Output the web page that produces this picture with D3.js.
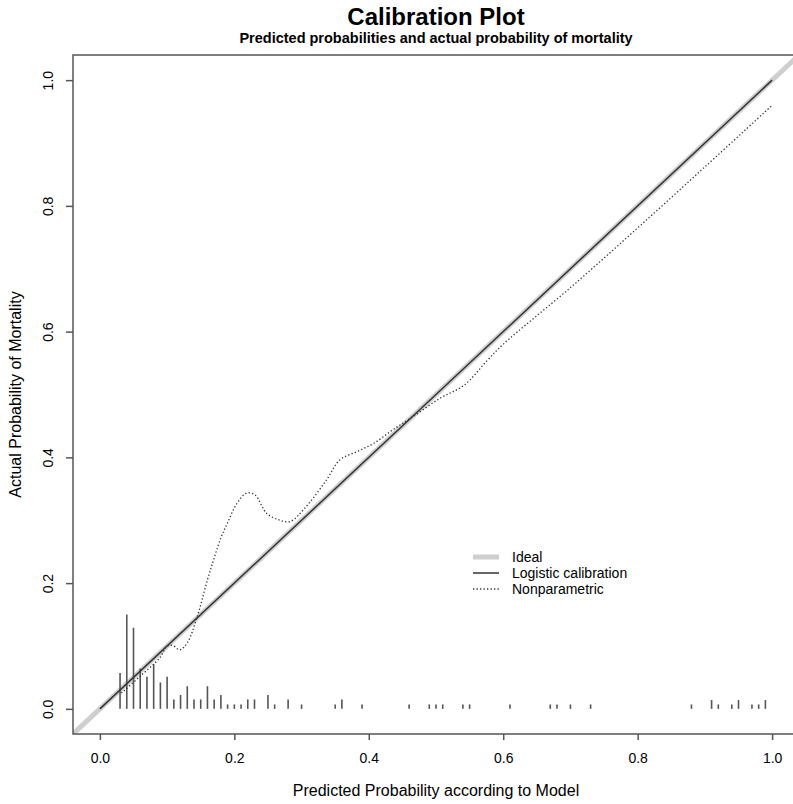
<!DOCTYPE html>
<html lang="en">
	<head>
		<meta charset="utf-8">
		<title>Calibration Plot</title>
		<script type="text/javascript" src="https://cdn.jsdelivr.net/npm/d3@7"></script>
		<style type="text/css">
			body { margin: 0; background: #fff; }
			text { font-family: "Liberation Sans", Arial, sans-serif; fill: #000; }
		</style>
	</head>
	<body>
		<script type="text/javascript">

			//Width and height
			var w = 793;
			var h = 804;

			//Axis ticks
			var tickValues = [0, 0.2, 0.4, 0.6, 0.8, 1.0];

			//Spike histogram of predicted probabilities (position, height)
			var spikeProb = [0.03, 0.04, 0.05, 0.06, 0.07, 0.08, 0.09, 0.10, 0.11, 0.12,
							 0.13, 0.14, 0.15, 0.16, 0.17, 0.18, 0.19, 0.20, 0.21, 0.22,
							 0.23, 0.25, 0.26, 0.28, 0.30, 0.35, 0.36, 0.39, 0.46, 0.49,
							 0.50, 0.51, 0.54, 0.55, 0.61, 0.67, 0.68, 0.70, 0.73, 0.88,
							 0.91, 0.92, 0.94, 0.95, 0.97, 0.98, 0.99];
			var spikeHeight = [0.057, 0.150, 0.129, 0.064, 0.051, 0.071, 0.042, 0.051, 0.015, 0.022,
							   0.036, 0.015, 0.015, 0.036, 0.015, 0.022, 0.007, 0.007, 0.007, 0.015,
							   0.015, 0.022, 0.007, 0.015, 0.007, 0.007, 0.015, 0.007, 0.007, 0.007,
							   0.007, 0.007, 0.007, 0.007, 0.007, 0.007, 0.007, 0.007, 0.007, 0.007,
							   0.014, 0.007, 0.007, 0.014, 0.007, 0.007, 0.014];

			//Logistic calibration curve
			var logisticX = [0.0, 0.5, 1.0];
			var logisticY = [0.0, 0.5, 1.0];

			//Nonparametric (loess) calibration curve
			var nonparX = [0.032, 0.060, 0.089, 0.100, 0.108, 0.119, 0.130, 0.144, 0.160, 0.170,
						   0.180, 0.190, 0.204, 0.218, 0.231, 0.248, 0.268, 0.283, 0.307, 0.337,
						   0.357, 0.382, 0.407, 0.436, 0.466, 0.506, 0.542, 0.577, 0.600, 0.700,
						   0.800, 0.900, 1.000];
			var nonparY = [0.025, 0.052, 0.081, 0.100, 0.101, 0.094, 0.105, 0.144, 0.205, 0.240,
						   0.272, 0.296, 0.327, 0.343, 0.340, 0.311, 0.300, 0.298, 0.322, 0.364,
						   0.396, 0.409, 0.422, 0.444, 0.465, 0.494, 0.515, 0.555, 0.580, 0.670,
						   0.765, 0.862, 0.960];

			var legendLabels = ["Ideal", "Logistic calibration", "Nonparametric"];

			//Plot region
			var plotLeft = 73, plotRight = 799, plotTop = 55, plotBottom = 734;

			var xScale = d3.scaleLinear()
						   .domain([-0.04, 1.04])
						   .range([plotLeft, plotRight]);

			var yScale = d3.scaleLinear()
						   .domain([-0.04, 1.04])
						   .range([plotBottom, plotTop]);

			var svg = d3.select("body")
						.append("svg")
						.attr("width", w)
						.attr("height", h);

			svg.append("clipPath")
				.attr("id", "plotclip")
				.append("rect")
				.attr("x", plotLeft)
				.attr("y", plotTop)
				.attr("width", plotRight - plotLeft)
				.attr("height", plotBottom - plotTop);

			var plot = svg.append("g").attr("clip-path", "url(#plotclip)");

			//Ideal line (spans whole region)
			var dom = xScale.domain();
			plot.append("line")
				.attr("x1", xScale(dom[0]))
				.attr("y1", yScale(dom[0]))
				.attr("x2", xScale(dom[1]))
				.attr("y2", yScale(dom[1]))
				.attr("stroke", "#cfcfcf")
				.attr("stroke-width", 5);

			//Spikes
			plot.selectAll("line.spike")
				.data(spikeProb)
				.enter()
				.append("line")
				.attr("class", "spike")
				.attr("x1", function(d) { return xScale(d); })
				.attr("x2", function(d) { return xScale(d); })
				.attr("y1", yScale(0))
				.attr("y2", function(d, i) { return yScale(spikeHeight[i]); })
				.attr("stroke", "#555")
				.attr("stroke-width", 1.6);

			//Logistic calibration
			var logisticLine = d3.line()
				.x(function(d) { return xScale(d); })
				.y(function(d, i) { return yScale(logisticY[i]); });

			plot.append("path")
				.attr("d", logisticLine(logisticX))
				.attr("fill", "none")
				.attr("stroke", "#333")
				.attr("stroke-width", 1.5);

			//Nonparametric
			var nonparLine = d3.line()
				.curve(d3.curveCatmullRom)
				.x(function(d) { return xScale(d); })
				.y(function(d, i) { return yScale(nonparY[i]); });

			plot.append("path")
				.attr("d", nonparLine(nonparX))
				.attr("fill", "none")
				.attr("stroke", "#333")
				.attr("stroke-width", 1.3)
				.attr("stroke-dasharray", "1.3,2.2");

			//Box
			svg.append("rect")
				.attr("x", plotLeft)
				.attr("y", plotTop)
				.attr("width", plotRight - plotLeft)
				.attr("height", plotBottom - plotTop)
				.attr("fill", "none")
				.attr("stroke", "#555")
				.attr("stroke-width", 1.5);

			//X axis
			var xAxis = d3.axisBottom(xScale)
				.tickValues(tickValues)
				.tickFormat(d3.format(".1f"))
				.tickSizeOuter(0)
				.tickSize(6)
				.tickPadding(13);

			var gx = svg.append("g")
				.attr("class", "x axis")
				.attr("transform", "translate(0," + plotBottom + ")")
				.call(xAxis);
			gx.select(".domain").remove();
			gx.selectAll("line").attr("stroke", "#555").attr("stroke-width", 1.5);
			gx.selectAll("text").attr("font-size", "14px").attr("fill", "#000");

			//Y axis
			var yAxis = d3.axisLeft(yScale)
				.tickValues(tickValues)
				.tickFormat(d3.format(".1f"))
				.tickSizeOuter(0)
				.tickSize(7);

			var gy = svg.append("g")
				.attr("class", "y axis")
				.attr("transform", "translate(" + plotLeft + ",0)")
				.call(yAxis);
			gy.select(".domain").remove();
			gy.selectAll("line").attr("stroke", "#555").attr("stroke-width", 1.5);
			gy.selectAll("text")
				.attr("font-size", "14px")
				.attr("fill", "#000")
				.attr("x", 0)
				.attr("dy", 0)
				.attr("text-anchor", "middle")
				.attr("transform", "translate(-20,0) rotate(-90)");

			//Titles
			var cx = (xScale(0) + xScale(1)) / 2;
			svg.append("text")
				.attr("x", cx)
				.attr("y", 25)
				.attr("text-anchor", "middle")
				.attr("font-size", "24px")
				.attr("font-weight", "bold")
				.text("Calibration Plot");

			svg.append("text")
				.attr("x", cx)
				.attr("y", 43)
				.attr("text-anchor", "middle")
				.attr("font-size", "14.5px")
				.attr("font-weight", "bold")
				.text("Predicted probabilities and actual probability of mortality");

			svg.append("text")
				.attr("x", cx)
				.attr("y", 796)
				.attr("text-anchor", "middle")
				.attr("font-size", "16px")
				.text("Predicted Probability according to Model");

			svg.append("text")
				.attr("transform", "translate(21," + ((yScale(0) + yScale(1)) / 2) + ") rotate(-90)")
				.attr("text-anchor", "middle")
				.attr("font-size", "16px")
				.text("Actual Probability of Mortality");

			//Legend
			var legendStyles = [
				{ stroke: "#cfcfcf", width: 5, dash: null },
				{ stroke: "#333", width: 1.5, dash: null },
				{ stroke: "#333", width: 1.3, dash: "1.3,2.2" }
			];
			var legend = svg.append("g").attr("transform", "translate(473,557)");
			legendLabels.forEach(function(label, i) {
				var s = legendStyles[i];
				legend.append("line")
					.attr("x1", 0).attr("x2", 26)
					.attr("y1", i * 16).attr("y2", i * 16)
					.attr("stroke", s.stroke)
					.attr("stroke-width", s.width)
					.attr("stroke-dasharray", s.dash);
				legend.append("text")
					.attr("x", 39)
					.attr("y", i * 16)
					.attr("dy", "0.35em")
					.attr("font-size", "14px")
					.text(label);
			});

		</script>
	</body>
</html>
